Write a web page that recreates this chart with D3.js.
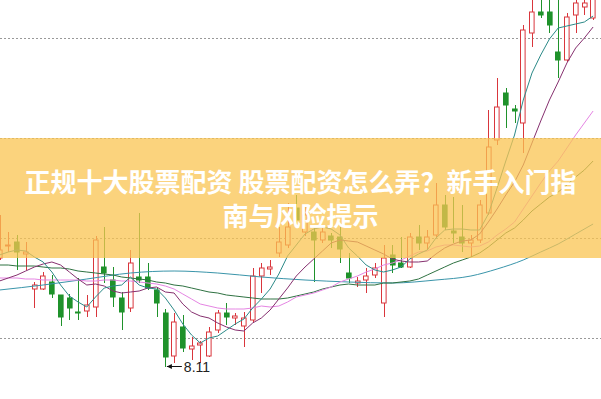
<!DOCTYPE html>
<html>
<head>
<meta charset="utf-8">
<script src="https://d3js.org/d3.v7.min.js"></script>
<style>
  body { margin: 0; background: #fff; }
  svg { display: block; }
</style>
</head>
<body>
<svg width="601" height="399"></svg>
<script>
// daily candles, left to right
var opens = [9.20,9.32,9.36,9.24,8.89,8.89,8.96,8.83,8.80,8.66,
             8.67,8.71,9.11,8.98,8.80,8.70,9.01,9.01,8.88,8.65,
             8.22,8.51,8.29,8.33,8.22,8.48,8.65,8.60,8.52,8.58,
             9.02,9.09,9.25,9.33,9.70,9.46,9.46,9.38,9.42,9.41,
             9.05,8.95,8.98,9.03,8.75,9.23,9.15,9.11,9.41,9.35,
             9.43,9.73,9.47,9.41,9.35,9.38,9.65,10.38,10.85,10.69,
             10.55,11.45,11.66,11.66,11.26,11.18,11.63,11.71,11.60];
var closes = [9.28,9.33,9.26,9.26,8.93,9.02,8.84,8.61,8.70,8.65,
              8.73,9.38,9.05,8.81,8.66,9.15,8.98,8.90,8.75,8.21,
              8.56,8.30,8.32,8.35,8.46,8.65,8.61,8.62,8.60,9.02,
              9.10,9.11,9.36,9.51,9.58,9.63,9.38,9.46,9.38,9.29,
              9.00,8.97,9.02,9.10,9.20,9.13,9.11,9.41,9.35,9.41,
              9.73,9.51,9.45,9.35,9.38,9.73,10.31,10.71,10.73,10.67,
              11.48,11.66,11.63,11.53,11.18,11.61,11.75,11.75,11.83];
var highs = [9.63,9.46,9.43,9.36,8.96,9.06,9.03,8.83,8.84,9.00,
             8.83,9.42,9.51,9.11,8.86,9.28,9.65,9.15,8.90,8.69,
             8.65,8.63,8.41,8.37,8.51,8.68,8.75,8.65,8.66,9.10,
             9.15,9.18,9.51,9.75,9.83,9.73,9.50,9.50,9.45,9.51,
             9.25,9.01,9.10,9.15,9.33,9.33,9.41,9.45,9.53,9.48,
             9.95,9.83,9.81,9.73,9.43,9.78,10.68,11.00,10.90,10.73,
             11.53,11.83,11.80,11.80,11.83,11.65,11.81,11.80,11.88];
var lows = [9.18,9.26,9.08,9.08,8.70,8.88,8.80,8.52,8.58,8.58,
            8.61,8.61,8.95,8.71,8.48,8.66,8.95,8.88,8.61,8.11,
            8.15,8.26,8.18,8.15,8.21,8.45,8.53,8.53,8.31,8.56,
            8.85,9.03,9.21,9.30,9.53,9.42,8.96,9.35,9.30,9.15,
            8.95,8.91,8.85,9.00,8.61,9.05,9.10,9.10,9.28,9.28,
            9.41,9.48,9.35,9.26,9.21,9.35,9.63,10.33,10.50,10.55,
            10.25,11.31,11.60,11.45,11.00,11.16,11.45,11.63,11.58];

// moving averages
var ma5 = [9.23,9.26,9.28,9.27,9.21,9.16,9.06,8.93,8.82,8.76,
           8.71,8.81,8.90,8.92,8.93,9.01,8.93,8.90,8.89,8.80,
           8.68,8.54,8.43,8.35,8.40,8.42,8.48,8.54,8.59,8.70,
           8.79,8.89,9.04,9.22,9.33,9.44,9.49,9.51,9.49,9.43,
           9.30,9.22,9.13,9.08,9.06,9.08,9.11,9.19,9.24,9.28,
           9.40,9.48,9.49,9.49,9.48,9.48,9.64,9.90,10.17,10.43,
           10.78,11.05,11.23,11.39,11.50,11.52,11.54,11.56,11.62];
var ma10 = [8.97,9.00,9.03,9.07,9.11,9.14,9.16,9.13,9.06,8.99,
            8.93,8.94,8.92,8.87,8.85,8.86,8.87,8.90,8.91,8.86,
            8.85,8.74,8.66,8.62,8.60,8.55,8.51,8.48,8.47,8.55,
            8.60,8.68,8.79,8.90,9.02,9.11,9.19,9.27,9.35,9.38,
            9.37,9.36,9.32,9.28,9.24,9.19,9.17,9.16,9.16,9.17,
            9.24,9.30,9.34,9.37,9.38,9.44,9.56,9.69,9.83,9.96,
            10.13,10.35,10.57,10.78,10.96,11.15,11.30,11.40,11.51];
var ma20 = [9.00,9.00,9.00,8.99,8.99,8.98,8.98,8.98,8.98,8.98,
            8.97,8.97,8.98,8.98,8.97,8.97,8.96,8.95,8.94,8.92,
            8.89,8.84,8.79,8.74,8.72,8.70,8.69,8.69,8.69,8.70,
            8.72,8.71,8.72,8.76,8.81,8.83,8.85,8.88,8.91,8.96,
            8.99,9.02,9.06,9.09,9.13,9.15,9.18,9.22,9.26,9.27,
            9.31,9.33,9.33,9.32,9.31,9.32,9.36,9.43,9.49,9.56,
            9.69,9.82,9.95,10.07,10.17,10.30,10.43,10.55,10.67];
var ma30 = [9.13,9.13,9.12,9.12,9.12,9.11,9.10,9.10,9.09,9.07,
            9.06,9.05,9.04,9.03,9.01,9.00,8.99,8.98,8.96,8.95,
            8.93,8.92,8.90,8.88,8.86,8.85,8.83,8.82,8.81,8.80,
            8.79,8.79,8.79,8.80,8.82,8.84,8.86,8.89,8.91,8.93,
            8.94,8.93,8.93,8.93,8.95,8.95,8.96,8.97,8.99,9.03,
            9.07,9.11,9.15,9.18,9.21,9.25,9.31,9.38,9.45,9.50,
            9.58,9.67,9.74,9.81,9.86,9.93,10.01,10.08,10.17];
var ma60Idx = [0,5,10,15,20,25,30,35,40,45,50,54,57,60,62,64,66,68];
var ma60 = [8.88,8.93,8.99,9.05,9.07,9.05,9.01,8.98,8.96,8.95,8.98,9.02,9.09,9.18,9.26,9.34,9.44,9.54];

var gridVals = [8.4, 9.4, 10.4, 11.4];
var titleLines = ["正规十大股票配资 股票配资怎么弄？新手入门指", "南与风险提示"];

var svg = d3.select("svg"),
    width = +svg.attr("width"),
    height = +svg.attr("height");

var idx = d3.range(opens.length);
var x = d3.scalePoint().domain(idx).range([-0.5, 593.1]);
var y = d3.scaleLinear().domain([8.4, 11.4]).range([338, 38]);
var bodyW = 5.6;
var upColor = "#d9363c", downColor = "#1f922b";

// dotted grid
svg.append("g").selectAll("line")
  .data(gridVals)
  .enter().append("line")
  .attr("x1", 0).attr("x2", width)
  .attr("y1", function(d) { return Math.round(y(d)) + 0.5; })
  .attr("y2", function(d) { return Math.round(y(d)) + 0.5; })
  .attr("stroke", "#999")
  .attr("stroke-dasharray", "2,2");

// candles
var candles = svg.append("g").selectAll("g")
  .data(idx)
  .enter().append("g");

candles.append("line")
  .attr("x1", function(i) { return Math.round(x(i)) + 0.5; })
  .attr("x2", function(i) { return Math.round(x(i)) + 0.5; })
  .attr("y1", function(i) { return y(highs[i]); })
  .attr("y2", function(i) { return y(lows[i]); })
  .attr("stroke", function(i) { return closes[i] >= opens[i] ? upColor : downColor; })
  .attr("stroke-width", 1);

candles.append("rect")
  .attr("x", function(i) { return Math.round(x(i) - bodyW / 2) + 0.5; })
  .attr("y", function(i) { return y(Math.max(opens[i], closes[i])); })
  .attr("width", bodyW - 1)
  .attr("height", function(i) { return Math.max(1, Math.abs(y(opens[i]) - y(closes[i]))); })
  .attr("fill", function(i) { return closes[i] >= opens[i] ? "#fff" : downColor; })
  .attr("stroke", function(i) { return closes[i] >= opens[i] ? upColor : downColor; })
  .attr("stroke-width", 1);

// moving average lines
var maLine = d3.line()
  .x(function(d, i) { return x(i); })
  .y(function(d) { return y(d); });

var maSets = [
  { vals: ma60, color: "#3a95aa" },
  { vals: ma30, color: "#2f7242" },
  { vals: ma20, color: "#e585e3" },
  { vals: ma10, color: "#86306f" },
  { vals: ma5,  color: "#2c8a88" }
];

maSets.forEach(function(s) {
  var path;
  if (s.vals === ma60) {
    path = d3.line()
      .x(function(d, k) { return x(ma60Idx[k]); })
      .y(function(d) { return y(d); })
      .curve(d3.curveMonotoneX)(s.vals);
  } else {
    path = maLine(s.vals);
  }
  svg.append("path")
    .attr("d", path)
    .attr("fill", "none")
    .attr("stroke", s.color)
    .attr("stroke-width", 1);
});

// lowest price marker
var lowMin = d3.min(lows);
var iMin = lows.indexOf(lowMin);
var tipX = x(iMin) + 1.5, tipY = Math.round(y(lowMin)) - 0.5;
svg.append("line")
  .attr("x1", tipX).attr("x2", tipX + 15)
  .attr("y1", tipY).attr("y2", tipY)
  .attr("stroke", "#111");
svg.append("path")
  .attr("d", "M" + tipX + "," + tipY + "l5,-2.5v5z")
  .attr("fill", "#111");
svg.append("text")
  .attr("x", tipX + 17)
  .attr("y", tipY + 5)
  .attr("font-family", "Liberation Sans, Arial, sans-serif")
  .attr("font-size", "14px")
  .attr("fill", "#222")
  .text(lowMin.toFixed(2));

// title banner
svg.append("rect")
  .attr("x", 0).attr("y", 138)
  .attr("width", width).attr("height", 120)
  .attr("fill", "rgb(249,196,82)")
  .attr("fill-opacity", 0.75);

svg.append("g").selectAll("text")
  .data(titleLines)
  .enter().append("text")
  .attr("x", width / 2)
  .attr("y", function(d, k) { return 192 + k * 34; })
  .attr("text-anchor", "middle")
  .attr("font-family", "Noto Sans CJK SC")
  .attr("font-weight", "bold")
  .attr("font-size", "26px")
  .attr("fill", "#fff")
  .text(function(d) { return d; });
</script>
</body>
</html>
